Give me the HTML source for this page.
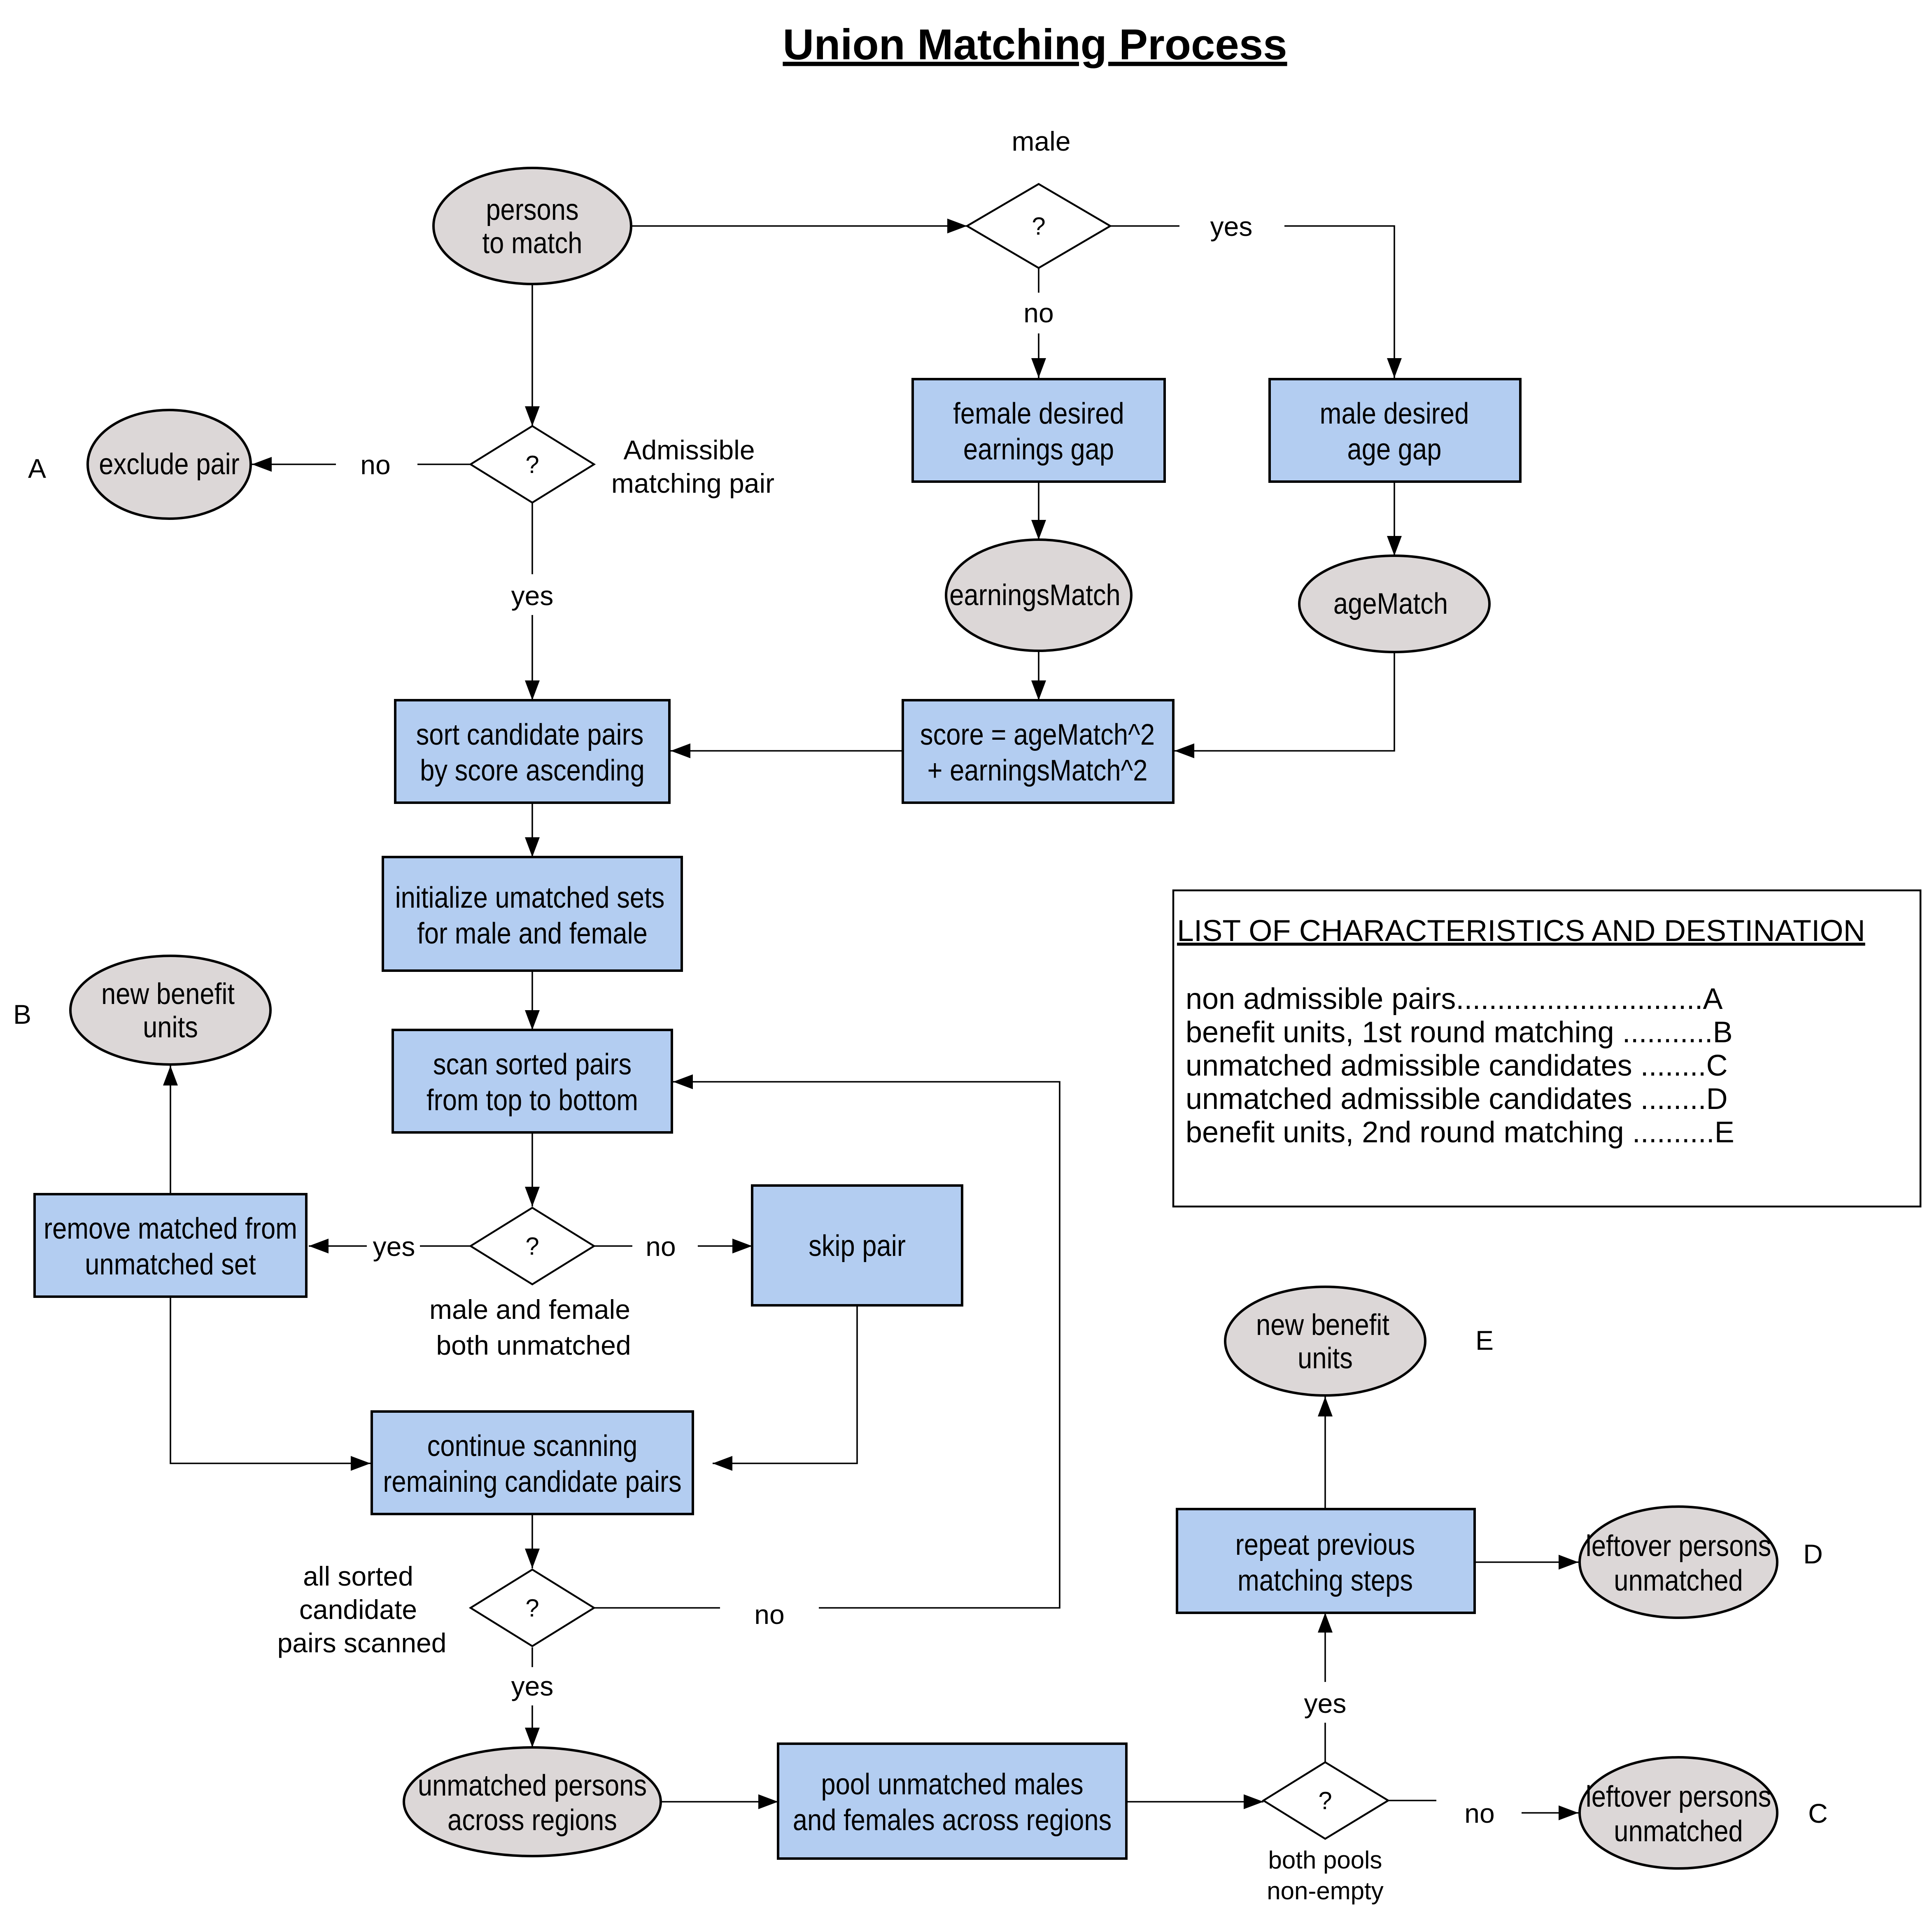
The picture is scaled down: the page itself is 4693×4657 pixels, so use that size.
<!DOCTYPE html>
<html><head><style>html,body{margin:0;padding:0;background:#fff}svg{display:block}
.n{font-family:"Liberation Sans",sans-serif;font-size:24px;text-anchor:middle;fill:#000;transform-box:fill-box;transform-origin:center;transform:scaleX(0.88)}
.l{font-family:"Liberation Sans",sans-serif;font-size:22px;text-anchor:middle;fill:#000}
.r{fill:#b3cdf1;stroke:#000;stroke-width:2}
.e{fill:#dcd7d7;stroke:#000;stroke-width:2}
.d{fill:#fff;stroke:#000;stroke-width:1.5}
.c{fill:none;stroke:#000;stroke-width:1.2}
</style></head><body>
<svg width="4693" height="4657" viewBox="0 0 1564.33 1552.33" xmlns="http://www.w3.org/2000/svg">
<defs><marker id="a" markerWidth="16" markerHeight="12" refX="16" refY="6" orient="auto" markerUnits="userSpaceOnUse"><path d="M0,0 L16,6 L0,12 Z" fill="#000"/></marker></defs>
<rect width="1564.33" height="1552.33" fill="#fff"/>
<text x="838" y="48" style="font-family:'Liberation Sans',sans-serif;font-size:35px;font-weight:bold;text-anchor:middle;text-decoration:underline">Union Matching Process</text>

<g class="c">
<path d="M511,183 H783" marker-end="url(#a)"/>
<path d="M899,183 H955"/><path d="M1040,183 H1129 V306" marker-end="url(#a)"/>
<path d="M841,217 V237"/><path d="M841,270 V306" marker-end="url(#a)"/>
<path d="M841,390 V437" marker-end="url(#a)"/>
<path d="M1129,390 V450" marker-end="url(#a)"/>
<path d="M841,527 V567" marker-end="url(#a)"/>
<path d="M1129,528 V608 H951" marker-end="url(#a)"/>
<path d="M731,608 H543" marker-end="url(#a)"/>
<path d="M431,230 V345" marker-end="url(#a)"/>
<path d="M381,376 H338"/><path d="M272,376 H204" marker-end="url(#a)"/>
<path d="M431,407 V465"/><path d="M431,498 V567" marker-end="url(#a)"/>
<path d="M431,650 V694" marker-end="url(#a)"/>
<path d="M431,786 V834" marker-end="url(#a)"/>
<path d="M431,917 V977" marker-end="url(#a)"/>
<path d="M381,1009 H340"/><path d="M297,1009 H250" marker-end="url(#a)"/>
<path d="M481,1009 H512"/><path d="M565,1009 H609" marker-end="url(#a)"/>
<path d="M138,967 V863" marker-end="url(#a)"/>
<path d="M138,1050 V1185 H300" marker-end="url(#a)"/>
<path d="M694,1057 V1185 H577" marker-end="url(#a)"/>
<path d="M431,1226 V1270" marker-end="url(#a)"/>
<path d="M481,1302 H583"/><path d="M663,1302 H858 V876 H545" marker-end="url(#a)"/>
<path d="M431,1334 V1350"/><path d="M431,1381 V1415" marker-end="url(#a)"/>
<path d="M535,1459 H630" marker-end="url(#a)"/>
<path d="M913,1459 H1023" marker-end="url(#a)"/>
<path d="M1124,1458 H1163"/><path d="M1232,1468 H1278" marker-end="url(#a)"/>
<path d="M1073,1427 V1395"/><path d="M1073,1362 V1306" marker-end="url(#a)"/>
<path d="M1073,1222 V1131" marker-end="url(#a)"/>
<path d="M1194,1265 H1278" marker-end="url(#a)"/>
</g>

<ellipse class="e" cx="431" cy="183" rx="80" ry="47"/>
<text class="n" x="431" y="178">persons</text><text class="n" x="431" y="205">to match</text>

<polygon class="d" points="783,183 841,149 899,183 841,217"/>
<text class="l" x="841" y="190" style="font-size:20px">?</text>
<text class="l" x="843" y="122">male</text>
<text class="l" x="997" y="191">yes</text>
<text class="l" x="841" y="261">no</text>

<rect class="r" x="739" y="307" width="204" height="83"/>
<text class="n" x="841" y="343">female desired</text><text class="n" x="841" y="372">earnings gap</text>
<rect class="r" x="1028" y="307" width="203" height="83"/>
<text class="n" x="1129" y="343">male desired</text><text class="n" x="1129" y="372">age gap</text>

<ellipse class="e" cx="841" cy="482" rx="75" ry="45"/>
<text class="n" x="838" y="490">earningsMatch</text>
<ellipse class="e" cx="1129" cy="489" rx="77" ry="39"/>
<text class="n" x="1126" y="497">ageMatch</text>

<rect class="r" x="731" y="567" width="219" height="83"/>
<text class="n" x="840" y="603">score = ageMatch^2</text><text class="n" x="840" y="632">+ earningsMatch^2</text>
<rect class="r" x="320" y="567" width="222" height="83"/>
<text class="n" x="429" y="603">sort candidate pairs</text><text class="n" x="431" y="632">by score ascending</text>

<polygon class="d" points="381,376 431,345 481,376 431,407"/>
<text class="l" x="431" y="383" style="font-size:20px">?</text>
<text class="l" x="558" y="372">Admissible</text><text class="l" x="561" y="399">matching pair</text>
<text class="l" x="304" y="384">no</text>
<text class="l" x="431" y="490">yes</text>
<ellipse class="e" cx="137" cy="376" rx="66" ry="44"/>
<text class="n" x="137" y="384">exclude pair</text>
<text class="l" x="30" y="387">A</text>

<rect class="r" x="310" y="694" width="242" height="92"/>
<text class="n" x="429" y="735">initialize umatched sets</text><text class="n" x="431" y="764">for male and female</text>
<rect class="r" x="318" y="834" width="226" height="83"/>
<text class="n" x="431" y="870">scan sorted pairs</text><text class="n" x="431" y="899">from top to bottom</text>

<polygon class="d" points="381,1009 431,978 481,1009 431,1040"/>
<text class="l" x="431" y="1016" style="font-size:20px">?</text>
<text class="l" x="429" y="1068">male and female</text><text class="l" x="432" y="1097">both unmatched</text>
<text class="l" x="319" y="1017">yes</text><text class="l" x="535" y="1017">no</text>

<rect class="r" x="28" y="967" width="220" height="83"/>
<text class="n" x="138" y="1003">remove matched from</text><text class="n" x="138" y="1032">unmatched set</text>
<rect class="r" x="609" y="960" width="170" height="97"/>
<text class="n" x="694" y="1017">skip pair</text>
<ellipse class="e" cx="138" cy="818" rx="81" ry="44"/>
<text class="n" x="136" y="813">new benefit</text><text class="n" x="138" y="840">units</text>
<text class="l" x="18" y="829">B</text>

<rect class="r" x="301" y="1143" width="260" height="83"/>
<text class="n" x="431" y="1179">continue scanning</text><text class="n" x="431" y="1208">remaining candidate pairs</text>

<polygon class="d" points="381,1302 431,1271 481,1302 431,1333"/>
<text class="l" x="431" y="1309" style="font-size:20px">?</text>
<text class="l" x="290" y="1284">all sorted</text><text class="l" x="290" y="1311">candidate</text><text class="l" x="293" y="1338">pairs scanned</text>
<text class="l" x="623" y="1315">no</text><text class="l" x="431" y="1373">yes</text>

<ellipse class="e" cx="431" cy="1459" rx="104" ry="44"/>
<text class="n" x="431" y="1454">unmatched persons</text><text class="n" x="431" y="1482">across regions</text>
<rect class="r" x="630" y="1412" width="282" height="93"/>
<text class="n" x="771" y="1453">pool unmatched males</text><text class="n" x="771" y="1482">and females across regions</text>

<polygon class="d" points="1023,1458 1073,1427 1124,1458 1073,1489"/>
<text class="l" x="1073" y="1465" style="font-size:20px">?</text>
<text class="l" x="1073" y="1513" style="font-size:20px">both pools</text><text class="l" x="1073" y="1538" style="font-size:20px">non-empty</text>
<text class="l" x="1198" y="1476">no</text><text class="l" x="1073" y="1387">yes</text>
<ellipse class="e" cx="1359" cy="1468" rx="80" ry="45"/>
<text class="n" x="1359" y="1463">leftover persons</text><text class="n" x="1359" y="1491">unmatched</text>
<text class="l" x="1472" y="1476">C</text>

<rect class="r" x="953" y="1222" width="241" height="84"/>
<text class="n" x="1073" y="1259">repeat previous</text><text class="n" x="1073" y="1288">matching steps</text>
<ellipse class="e" cx="1073" cy="1086" rx="81" ry="44"/>
<text class="n" x="1071" y="1081">new benefit</text><text class="n" x="1073" y="1108">units</text>
<text class="l" x="1202" y="1093">E</text>
<ellipse class="e" cx="1359" cy="1265" rx="80" ry="45"/>
<text class="n" x="1359" y="1260">leftover persons</text><text class="n" x="1359" y="1288">unmatched</text>
<text class="l" x="1468" y="1266">D</text>

<rect x="950" y="721" width="605" height="256" fill="#fff" stroke="#000" stroke-width="1.5"/>
<g style="font-family:'Liberation Sans',sans-serif;font-size:24px">
<text x="953" y="762" style="text-decoration:underline;font-size:24.5px"> LIST OF CHARACTERISTICS AND DESTINATION</text>
<text x="960" y="817">non admissible pairs..............................A</text>
<text x="960" y="844">benefit units, 1st round matching ...........B</text>
<text x="960" y="871">unmatched admissible candidates  ........C</text>
<text x="960" y="898">unmatched admissible candidates  ........D</text>
<text x="960" y="925">benefit units, 2nd round matching ..........E</text>
</g>
</svg>
</body></html>
